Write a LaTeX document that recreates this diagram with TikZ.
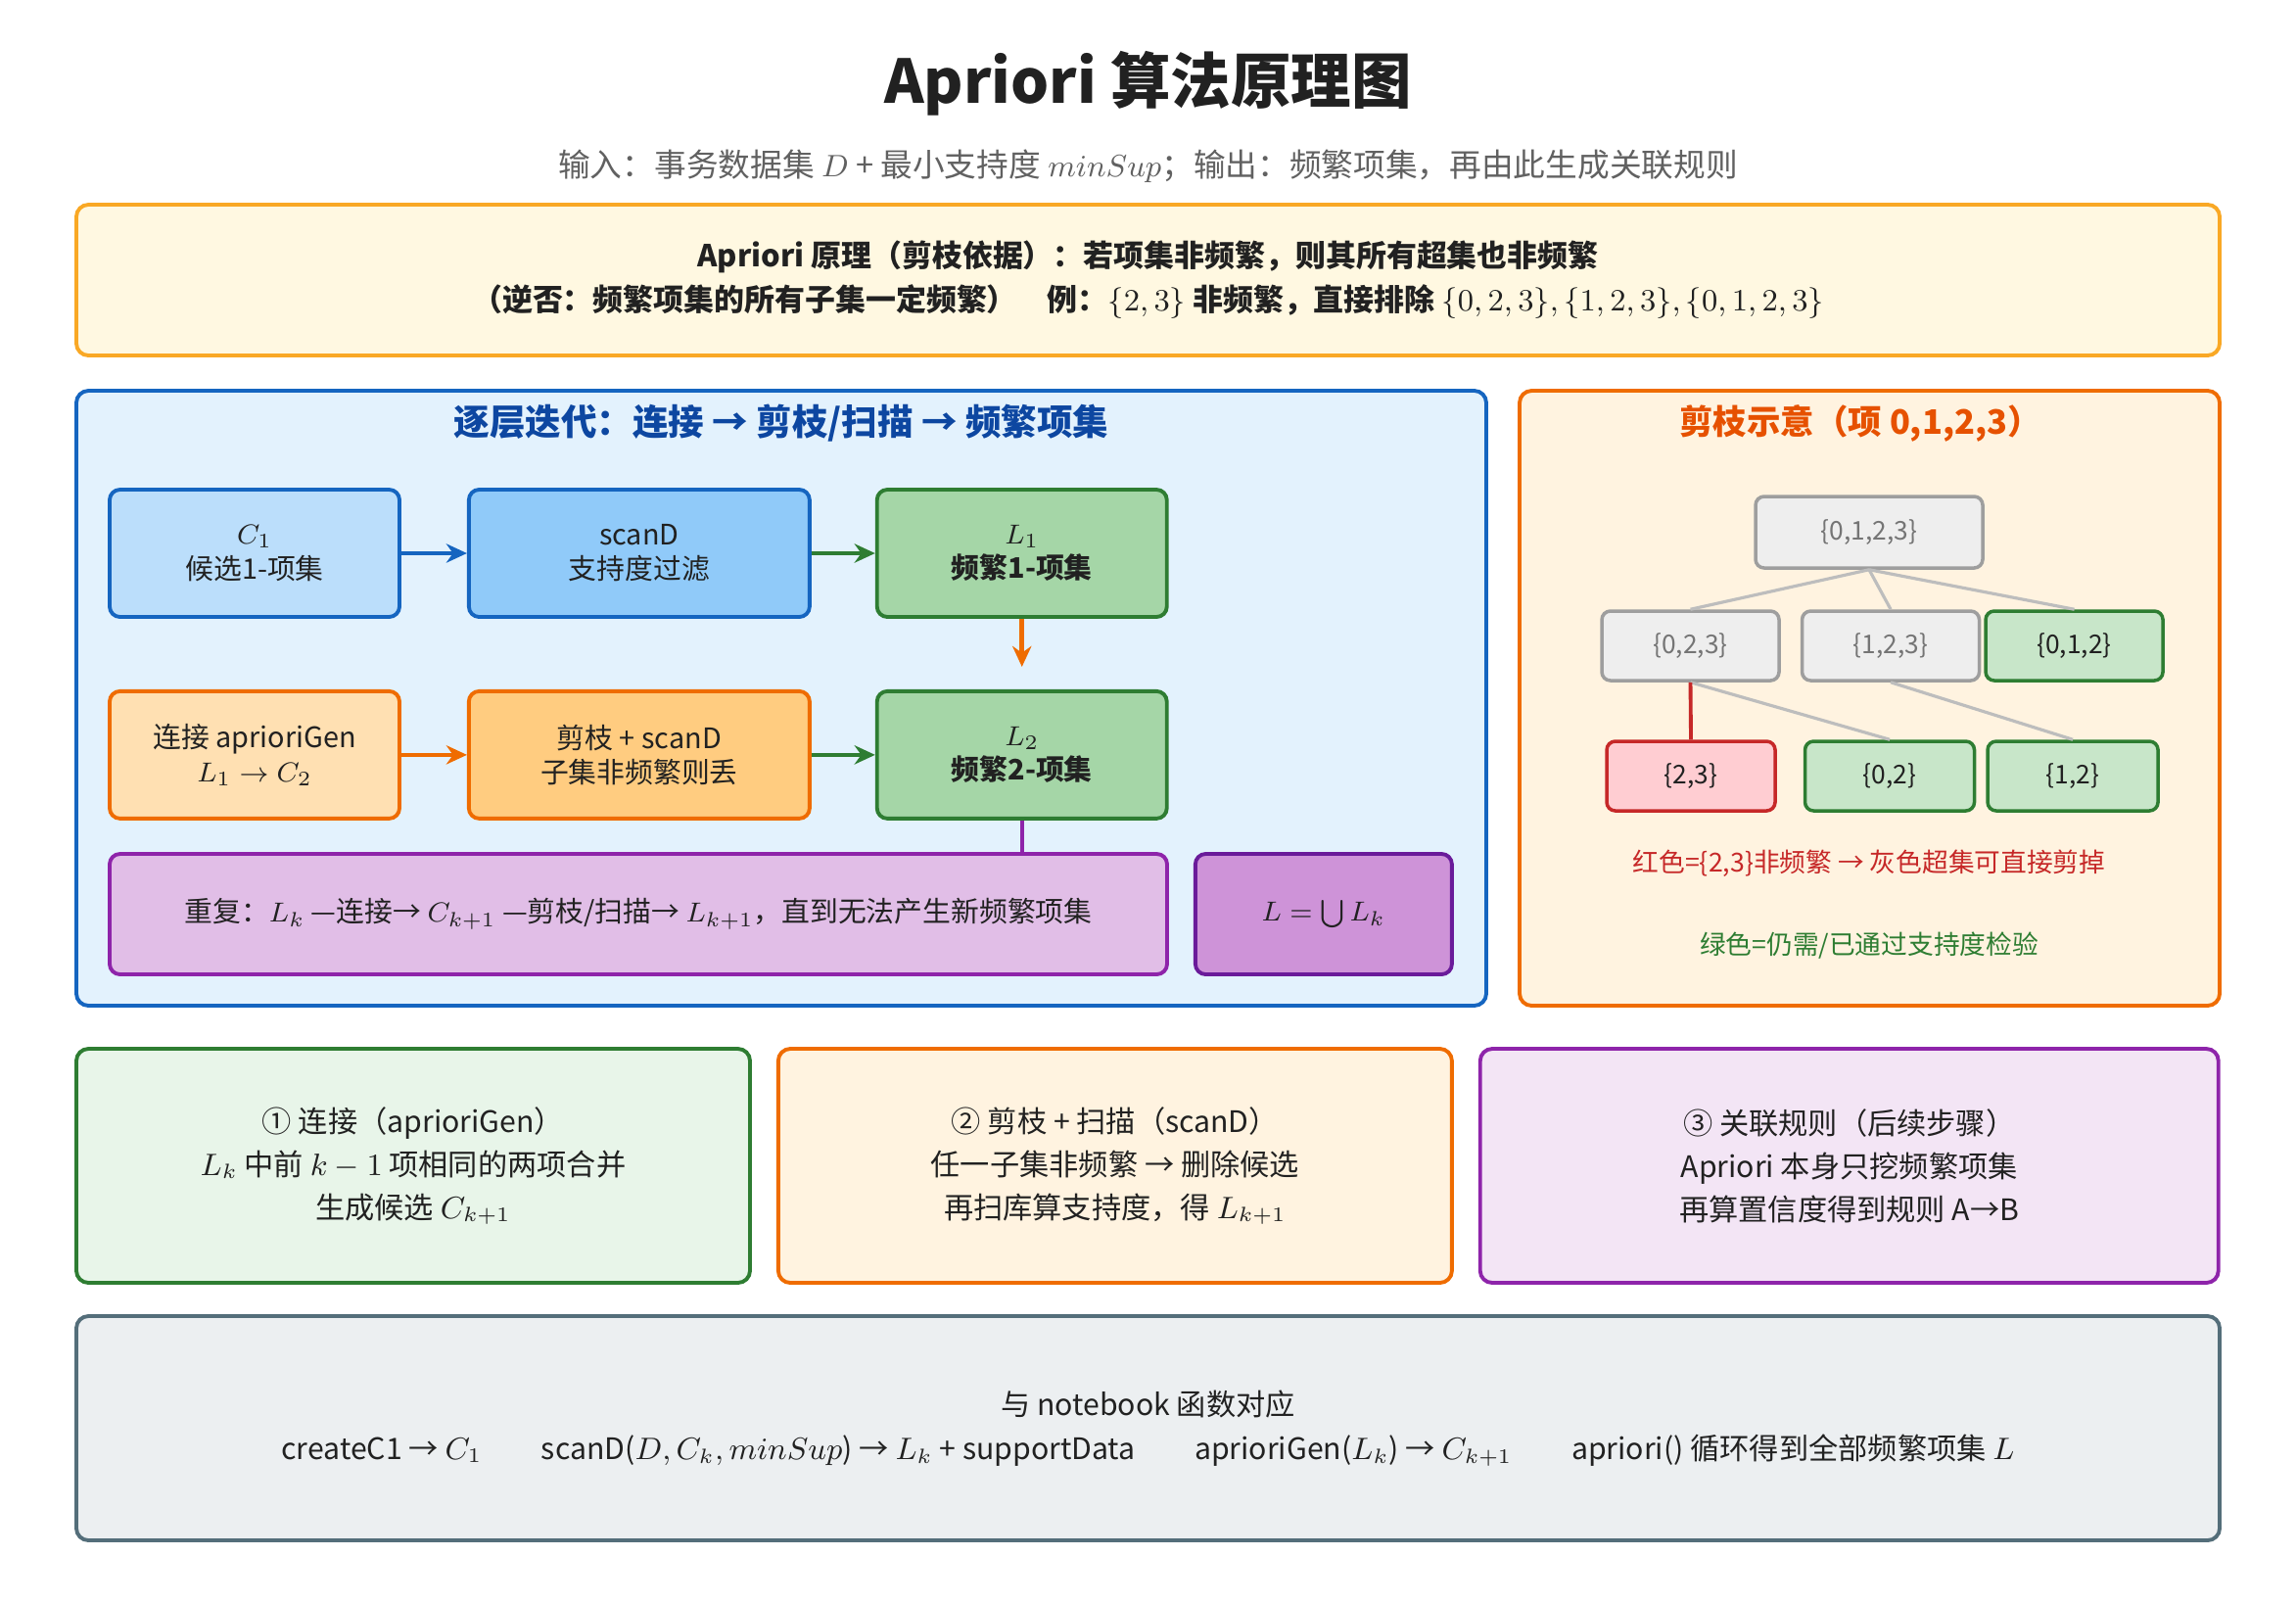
\documentclass[tikz,border=0pt]{standalone}
\usepackage{amsmath}
\usepackage{fontspec}
\setmainfont{Noto Sans CJK SC}
\usetikzlibrary{positioning,arrows.meta}
\definecolor{ink}{HTML}{212121}
\definecolor{subgray}{HTML}{616161}
\definecolor{ylwbd}{HTML}{F9A825}
\definecolor{ylwbg}{HTML}{FFF8E1}
\definecolor{bluebd}{HTML}{1565C0}
\definecolor{bluebg}{HTML}{E3F2FD}
\definecolor{bluetx}{HTML}{0D47A1}
\definecolor{blueA}{HTML}{BBDEFB}
\definecolor{blueB}{HTML}{90CAF9}
\definecolor{grnbd}{HTML}{2E7D32}
\definecolor{grnA}{HTML}{A5D6A7}
\definecolor{grnB}{HTML}{C8E6C9}
\definecolor{grnbg}{HTML}{E8F5E9}
\definecolor{orgbd}{HTML}{EF6C00}
\definecolor{orgA}{HTML}{FFE0B2}
\definecolor{orgB}{HTML}{FFCC80}
\definecolor{orgbg}{HTML}{FFF3E0}
\definecolor{orgtx}{HTML}{E65100}
\definecolor{purbd}{HTML}{8E24AA}
\definecolor{purA}{HTML}{E1BEE7}
\definecolor{purB}{HTML}{CE93D8}
\definecolor{purdk}{HTML}{6A1B9A}
\definecolor{purbg}{HTML}{F3E5F5}
\definecolor{greybd}{HTML}{9E9E9E}
\definecolor{greybg}{HTML}{EEEEEE}
\definecolor{greytx}{HTML}{757575}
\definecolor{greyln}{HTML}{BDBDBD}
\definecolor{redbd}{HTML}{C62828}
\definecolor{redbg}{HTML}{FFCDD2}
\definecolor{notebd}{HTML}{546E7A}
\definecolor{notebg}{HTML}{ECEFF1}
\begin{document}
\begin{tikzpicture}[panel/.style={draw,rounded corners=3.5pt,line width=1.1pt,align=center,text=ink},
    flowbox/.style={draw,rounded corners=3pt,line width=1.1pt,align=center,text=ink,
      minimum width=2.96cm,minimum height=1.3cm,font=\fontsize{8.2}{10}\selectfont},
    setbox/.style={draw,rounded corners=2.5pt,line width=1pt,minimum width=1.81cm,
      minimum height=0.71cm,text=ink,font=\fontsize{7.5}{9}\selectfont},
    grey set/.style={setbox,draw=greybd,fill=greybg,text=greytx},
    green set/.style={setbox,draw=grnbd,fill=grnB},
    red set/.style={setbox,draw=redbd,fill=redbg},
    step box/.style={panel,minimum height=2.39cm,font=\fontsize{8.6}{12.5}\selectfont},
    arr/.style={-{Stealth[length=6pt,width=5.5pt]},line width=1.3pt}]
 \path[fill=white,use as bounding box] (0,0) rectangle (23.45,-16.36);
 \node[font=\fontsize{17.5}{21}\selectfont\bfseries,text=ink] (title) at (11.725,-0.85) {Apriori 算法原理图};
 \node[font=\fontsize{9.3}{11}\selectfont,text=subgray] (sub) at (11.725,-1.7)
  {输入：事务数据集 $D$ + 最小支持度 $minSup$；输出：频繁项集，再由此生成关联规则};
 \node[panel,draw=ylwbd,fill=ylwbg,minimum width=21.89cm,minimum height=1.54cm,
   font=\fontsize{8.8}{12.8}\selectfont\bfseries] (principle) at (11.725,-2.86)
  {Apriori 原理（剪枝依据）：若项集非频繁，则其所有超集也非频繁\\
   （逆否：频繁项集的所有子集一定频繁）\quad 例：$\{2,3\}$ 非频繁，直接排除 $\{0,2,3\}, \{1,2,3\}, \{0,1,2,3\}$};

 \node[panel,draw=bluebd,fill=bluebg,minimum width=14.4cm,minimum height=6.28cm] (flow) at (7.98,-7.13) {};
 \node[font=\fontsize{10.4}{12}\selectfont\bfseries,text=bluetx] (flowtitle) at (7.98,-4.32) {逐层迭代：连接 → 剪枝/扫描 → 频繁项集};
 \node[flowbox,draw=bluebd,fill=blueA] (c1) at (2.6,-5.65) {$C_1$\\候选1-项集};
 \node[flowbox,draw=bluebd,fill=blueB,minimum width=3.48cm,right=0.67cm of c1] (scan) {scanD\\支持度过滤};
 \node[flowbox,draw=grnbd,fill=grnA,right=0.65cm of scan] (l1) {$L_1$\\\textbf{频繁1-项集}};
 \node[flowbox,draw=orgbd,fill=orgA,below=0.72cm of c1] (join) {连接 aprioriGen\\$L_1\to C_2$};
 \node[flowbox,draw=orgbd,fill=orgB,minimum width=3.48cm,below=0.72cm of scan] (prune) {剪枝 + scanD\\子集非频繁则丢};
 \node[flowbox,draw=grnbd,fill=grnA,below=0.72cm of l1] (l2) {$L_2$\\\textbf{频繁2-项集}};
 \node[flowbox,draw=purbd,fill=purA,minimum width=10.8cm,minimum height=1.23cm] (rep) at (6.52,-9.335)
  {重复：$L_k$ —连接→ $C_{k+1}$ —剪枝/扫描→ $L_{k+1}$，直到无法产生新频繁项集};
 \node[flowbox,draw=purdk,fill=purB,minimum width=2.62cm,minimum height=1.23cm,right=0.25cm of rep] (union) {$L=\bigcup L_k$};
 \draw[arr,bluebd] (c1) -- (scan);
 \draw[arr,grnbd] (scan) -- (l1);
 \draw[arr,orgbd,shorten >=0.23cm] (l1) -- (l2);
 \draw[arr,orgbd] (join) -- (prune);
 \draw[arr,grnbd] (prune) -- (l2);
 \draw[purbd,line width=1.1pt] (l2.south) -- (l2.south |- rep.north);

 \node[panel,draw=orgbd,fill=orgbg,minimum width=7.15cm,minimum height=6.28cm] (prunepanel) at (19.095,-7.13) {};
 \node[font=\fontsize{9.8}{12}\selectfont\bfseries,text=orgtx] (prunetitle) at (19.0,-4.32) {剪枝示意（项 0,1,2,3）};
 \node[grey set,minimum width=2.32cm,minimum height=0.73cm] (s0123) at (19.09,-5.435) {\{0,1,2,3\}};
 \node[grey set] (s023) at (17.265,-6.595) {\{0,2,3\}};
 \node[grey set,right=0.2cm of s023] (s123) {\{1,2,3\}};
 \node[green set,right=0.03cm of s123] (s012) {\{0,1,2\}};
 \node[red set,minimum width=1.72cm] (s23) at (17.27,-7.925) {\{2,3\}};
 \node[green set,minimum width=1.73cm,right=0.27cm of s23] (s02) {\{0,2\}};
 \node[green set,minimum width=1.74cm,right=0.1cm of s02] (s12) {\{1,2\}};
 \path[greyln,line width=0.9pt] (s0123.south) edge (s023.north) edge (s123.north) edge (s012.north)
   (s023.south) edge (s02.north) (s123.south) edge (s12.north);
 \draw[redbd,line width=1.1pt] (s023.south) -- (s23.north);
 \node[font=\fontsize{7.6}{9}\selectfont,text=redbd] (rednote) at (19.09,-8.82) {红色=\{2,3\}非频繁 → 灰色超集可直接剪掉};
 \node[font=\fontsize{7.6}{9}\selectfont,text=grnbd] (greennote) at (19.09,-9.66) {绿色=仍需/已通过支持度检验};

 \node[step box,draw=grnbd,fill=grnbg,minimum width=6.88cm] (stepjoin) at (4.22,-11.905)
  {① 连接（aprioriGen）\\$L_k$ 中前 $k-1$ 项相同的两项合并\\生成候选 $C_{k+1}$};
 \node[step box,draw=orgbd,fill=orgbg,minimum width=6.88cm,right=0.25cm of stepjoin] (stepprune)
  {② 剪枝 + 扫描（scanD）\\任一子集非频繁 → 删除候选\\再扫库算支持度，得 $L_{k+1}$};
 \node[step box,draw=purbd,fill=purbg,minimum width=7.54cm,right=0.25cm of stepprune] (steprule)
  {③ 关联规则（后续步骤）\\Apriori 本身只挖频繁项集\\再算置信度得到规则 A→B};
 \node[panel,draw=notebd,fill=notebg,minimum width=21.89cm,minimum height=2.29cm,
   font=\fontsize{8.6}{12.8}\selectfont] (notebook) at (11.725,-14.585)
  {与 notebook 函数对应\\createC1 → $C_1$\qquad scanD($D,C_k,minSup$) → $L_k$ + supportData\qquad aprioriGen($L_k$) → $C_{k+1}$\qquad apriori() 循环得到全部频繁项集 $L$};
\end{tikzpicture}
\end{document}
